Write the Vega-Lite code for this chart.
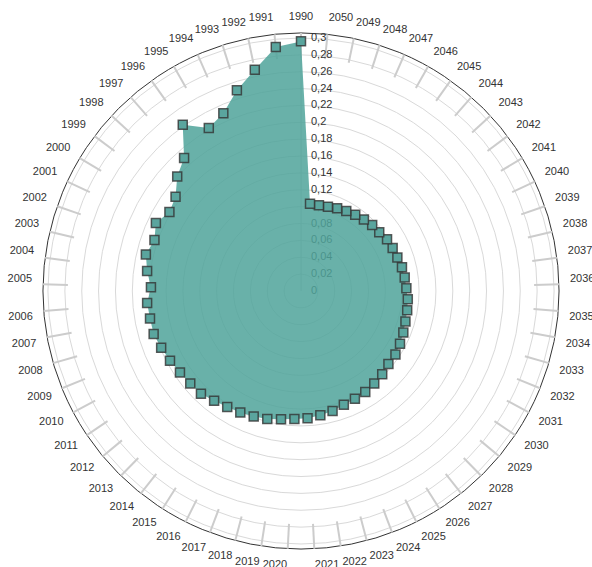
{
  "$schema": "https://vega.github.io/schema/vega-lite/v6.json",
  "width": 540,
  "height": 540,
  "autosize": {"type": "none"},
  "padding": {"left": 31, "top": 21, "right": 21, "bottom": 6},
  "background": "white",
  "config": {
    "view": {"stroke": null},
    "locale": {"number": {"decimal": ",", "thousands": ".", "grouping": [3], "currency": ["", " €"]}},
    "text": {"font": "Liberation Sans", "fontSize": 11}
  },
  "datasets": {
    "series": [
      {"year": 1990, "value": 0.296}, {"year": 1991, "value": 0.291}, {"year": 1992, "value": 0.268},
      {"year": 1993, "value": 0.250}, {"year": 1994, "value": 0.230}, {"year": 1995, "value": 0.222},
      {"year": 1996, "value": 0.242}, {"year": 1997, "value": 0.210}, {"year": 1998, "value": 0.200},
      {"year": 1999, "value": 0.186}, {"year": 2000, "value": 0.182}, {"year": 2001, "value": 0.190},
      {"year": 2002, "value": 0.184}, {"year": 2003, "value": 0.189}, {"year": 2004, "value": 0.184},
      {"year": 2005, "value": 0.178}, {"year": 2006, "value": 0.183}, {"year": 2007, "value": 0.182},
      {"year": 2008, "value": 0.182}, {"year": 2009, "value": 0.179}, {"year": 2010, "value": 0.176},
      {"year": 2011, "value": 0.173}, {"year": 2012, "value": 0.171}, {"year": 2013, "value": 0.170},
      {"year": 2014, "value": 0.166}, {"year": 2015, "value": 0.163}, {"year": 2016, "value": 0.161},
      {"year": 2017, "value": 0.159}, {"year": 2018, "value": 0.157}, {"year": 2019, "value": 0.154},
      {"year": 2020, "value": 0.152}, {"year": 2021, "value": 0.151}, {"year": 2022, "value": 0.149},
      {"year": 2023, "value": 0.147}, {"year": 2024, "value": 0.144}, {"year": 2025, "value": 0.143},
      {"year": 2026, "value": 0.142}, {"year": 2027, "value": 0.140}, {"year": 2028, "value": 0.138},
      {"year": 2029, "value": 0.135}, {"year": 2030, "value": 0.135}, {"year": 2031, "value": 0.133},
      {"year": 2032, "value": 0.131}, {"year": 2033, "value": 0.129}, {"year": 2034, "value": 0.128},
      {"year": 2035, "value": 0.127}, {"year": 2036, "value": 0.125}, {"year": 2037, "value": 0.124},
      {"year": 2038, "value": 0.123}, {"year": 2039, "value": 0.121}, {"year": 2040, "value": 0.120},
      {"year": 2041, "value": 0.119}, {"year": 2042, "value": 0.116}, {"year": 2043, "value": 0.115},
      {"year": 2044, "value": 0.113}, {"year": 2045, "value": 0.111}, {"year": 2046, "value": 0.109},
      {"year": 2047, "value": 0.107}, {"year": 2048, "value": 0.105}, {"year": 2049, "value": 0.104},
      {"year": 2050, "value": 0.104}
    ],
    "ticks": [
      {"r": 0}, {"r": 0.02}, {"r": 0.04}, {"r": 0.06}, {"r": 0.08}, {"r": 0.1}, {"r": 0.12}, {"r": 0.14},
      {"r": 0.16}, {"r": 0.18}, {"r": 0.2}, {"r": 0.22}, {"r": 0.24}, {"r": 0.26}, {"r": 0.28}, {"r": 0.3}
    ]
  },
  "layer": [
    {
      "data": {"name": "ticks"},
      "transform": [{"filter": "datum.r > 0"}],
      "mark": {"type": "arc", "filled": false, "fill": null, "stroke": "#d9d9d9", "strokeWidth": 1, "theta": 0, "theta2": 6.283185307179586},
      "encoding": {
        "radius": {"field": "r", "type": "quantitative", "stack": null, "scale": {"type": "linear", "domain": [0, 0.32016], "range": [0, 270], "zero": true}, "legend": null}
      }
    },
    {
      "data": {"values": [{"r": 0.306}]},
      "mark": {"type": "arc", "filled": false, "fill": null, "stroke": "#333333", "strokeWidth": 1, "theta": 0, "theta2": 6.283185307179586},
      "encoding": {
        "radius": {"field": "r", "type": "quantitative", "stack": null, "scale": {"type": "linear", "domain": [0, 0.32016], "range": [0, 270], "zero": true}, "legend": null}
      }
    },
    {
      "data": {"name": "series"},
      "transform": [
        {"calculate": "(datum.year - 1990) * 2 * PI / 61", "as": "a"},
        {"calculate": "-0.2765 * sin(datum.a)", "as": "x1"},
        {"calculate": "0.2765 * cos(datum.a)", "as": "y1"},
        {"calculate": "-0.306 * sin(datum.a)", "as": "x2"},
        {"calculate": "0.306 * cos(datum.a)", "as": "y2"}
      ],
      "mark": {"type": "rule", "stroke": "#cccccc", "strokeWidth": 2},
      "encoding": {
        "x": {"field": "x1", "type": "quantitative", "scale": {"domain": [-0.32016, 0.32016], "nice": false, "zero": false}, "axis": null},
        "y": {"field": "y1", "type": "quantitative", "scale": {"domain": [-0.32016, 0.32016], "nice": false, "zero": false}, "axis": null},
        "x2": {"field": "x2"},
        "y2": {"field": "y2"}
      }
    },
    {
      "data": {"values": [{}]},
      "mark": {"type": "rule", "stroke": "#cccccc", "strokeWidth": 1},
      "encoding": {
        "x": {"datum": 0, "type": "quantitative", "scale": {"domain": [-0.32016, 0.32016], "nice": false, "zero": false}, "axis": null},
        "y": {"datum": 0, "type": "quantitative", "scale": {"domain": [-0.32016, 0.32016], "nice": false, "zero": false}, "axis": null},
        "y2": {"datum": 0.3}
      }
    },
    {
      "data": {"name": "ticks"},
      "mark": {"type": "text", "align": "left", "baseline": "middle", "dx": 10, "fill": "#333333", "fontSize": 11, "font": "Liberation Sans"},
      "encoding": {
        "x": {"datum": 0, "type": "quantitative", "scale": {"domain": [-0.32016, 0.32016], "nice": false, "zero": false}, "axis": null},
        "y": {"field": "r", "type": "quantitative", "scale": {"domain": [-0.32016, 0.32016], "nice": false, "zero": false}, "axis": null},
        "text": {"field": "r", "type": "quantitative", "format": "~r"}
      }
    },
    {
      "data": {"name": "series"},
      "transform": [
        {"calculate": "(datum.year - 1990) * 2 * PI / 61", "as": "a"},
        {"calculate": "-datum.value * sin(datum.a)", "as": "sx"},
        {"calculate": "datum.value * cos(datum.a)", "as": "sy"}
      ],
      "mark": {"type": "line", "fill": "#4fa39a", "fillOpacity": 0.85, "stroke": "#4fa39a", "strokeOpacity": 0, "strokeWidth": 0},
      "encoding": {
        "x": {"field": "sx", "type": "quantitative", "scale": {"domain": [-0.32016, 0.32016], "nice": false, "zero": false}, "axis": null},
        "y": {"field": "sy", "type": "quantitative", "scale": {"domain": [-0.32016, 0.32016], "nice": false, "zero": false}, "axis": null},
        "order": {"field": "year", "type": "quantitative"}
      }
    },
    {
      "data": {"name": "series"},
      "transform": [
        {"calculate": "(datum.year - 1990) * 2 * PI / 61", "as": "a"},
        {"calculate": "-datum.value * sin(datum.a)", "as": "sx"},
        {"calculate": "datum.value * cos(datum.a)", "as": "sy"}
      ],
      "mark": {"type": "point", "shape": "square", "size": 81, "filled": true, "fill": "#5aa59e", "fillOpacity": 1, "stroke": "#333333", "strokeWidth": 1.5, "strokeOpacity": 0.8, "opacity": 1},
      "encoding": {
        "x": {"field": "sx", "type": "quantitative", "scale": {"domain": [-0.32016, 0.32016], "nice": false, "zero": false}, "axis": null},
        "y": {"field": "sy", "type": "quantitative", "scale": {"domain": [-0.32016, 0.32016], "nice": false, "zero": false}, "axis": null}
      }
    },
    {
      "data": {"name": "series"},
      "transform": [
        {"filter": "datum.year == 1990"},
        {"calculate": "(datum.year - 1990) * 2 * PI / 61", "as": "a"},
        {"calculate": "-0.319 * sin(datum.a)", "as": "lx"},
        {"calculate": "0.319 * cos(datum.a)", "as": "ly"}
      ],
      "mark": {"type": "text", "align": "center", "baseline": "middle", "dy": -5, "fill": "#333333", "fontSize": 11, "font": "Liberation Sans"},
      "encoding": {
        "x": {"field": "lx", "type": "quantitative", "scale": {"domain": [-0.32016, 0.32016], "nice": false, "zero": false}, "axis": null},
        "y": {"field": "ly", "type": "quantitative", "scale": {"domain": [-0.32016, 0.32016], "nice": false, "zero": false}, "axis": null},
        "text": {"field": "year", "type": "nominal"}
      }
    },
    {
      "data": {"name": "series"},
      "transform": [
        {"filter": "datum.year >= 1991 && datum.year <= 2005"},
        {"calculate": "(datum.year - 1990) * 2 * PI / 61", "as": "a"},
        {"calculate": "-0.319 * sin(datum.a)", "as": "lx"},
        {"calculate": "0.319 * cos(datum.a)", "as": "ly"}
      ],
      "mark": {"type": "text", "align": "right", "baseline": "middle", "dy": -5, "fill": "#333333", "fontSize": 11, "font": "Liberation Sans"},
      "encoding": {
        "x": {"field": "lx", "type": "quantitative", "scale": {"domain": [-0.32016, 0.32016], "nice": false, "zero": false}, "axis": null},
        "y": {"field": "ly", "type": "quantitative", "scale": {"domain": [-0.32016, 0.32016], "nice": false, "zero": false}, "axis": null},
        "text": {"field": "year", "type": "nominal"}
      }
    },
    {
      "data": {"name": "series"},
      "transform": [
        {"filter": "datum.year >= 2006 && datum.year <= 2020"},
        {"calculate": "(datum.year - 1990) * 2 * PI / 61", "as": "a"},
        {"calculate": "-0.319 * sin(datum.a)", "as": "lx"},
        {"calculate": "0.319 * cos(datum.a)", "as": "ly"}
      ],
      "mark": {"type": "text", "align": "right", "baseline": "middle", "dy": 5, "fill": "#333333", "fontSize": 11, "font": "Liberation Sans"},
      "encoding": {
        "x": {"field": "lx", "type": "quantitative", "scale": {"domain": [-0.32016, 0.32016], "nice": false, "zero": false}, "axis": null},
        "y": {"field": "ly", "type": "quantitative", "scale": {"domain": [-0.32016, 0.32016], "nice": false, "zero": false}, "axis": null},
        "text": {"field": "year", "type": "nominal"}
      }
    },
    {
      "data": {"name": "series"},
      "transform": [
        {"filter": "datum.year >= 2021 && datum.year <= 2035"},
        {"calculate": "(datum.year - 1990) * 2 * PI / 61", "as": "a"},
        {"calculate": "-0.319 * sin(datum.a)", "as": "lx"},
        {"calculate": "0.319 * cos(datum.a)", "as": "ly"}
      ],
      "mark": {"type": "text", "align": "left", "baseline": "middle", "dy": 5, "fill": "#333333", "fontSize": 11, "font": "Liberation Sans"},
      "encoding": {
        "x": {"field": "lx", "type": "quantitative", "scale": {"domain": [-0.32016, 0.32016], "nice": false, "zero": false}, "axis": null},
        "y": {"field": "ly", "type": "quantitative", "scale": {"domain": [-0.32016, 0.32016], "nice": false, "zero": false}, "axis": null},
        "text": {"field": "year", "type": "nominal"}
      }
    },
    {
      "data": {"name": "series"},
      "transform": [
        {"filter": "datum.year >= 2036"},
        {"calculate": "(datum.year - 1990) * 2 * PI / 61", "as": "a"},
        {"calculate": "-0.319 * sin(datum.a)", "as": "lx"},
        {"calculate": "0.319 * cos(datum.a)", "as": "ly"}
      ],
      "mark": {"type": "text", "align": "left", "baseline": "middle", "dy": -5, "fill": "#333333", "fontSize": 11, "font": "Liberation Sans"},
      "encoding": {
        "x": {"field": "lx", "type": "quantitative", "scale": {"domain": [-0.32016, 0.32016], "nice": false, "zero": false}, "axis": null},
        "y": {"field": "ly", "type": "quantitative", "scale": {"domain": [-0.32016, 0.32016], "nice": false, "zero": false}, "axis": null},
        "text": {"field": "year", "type": "nominal"}
      }
    }
  ]
}
